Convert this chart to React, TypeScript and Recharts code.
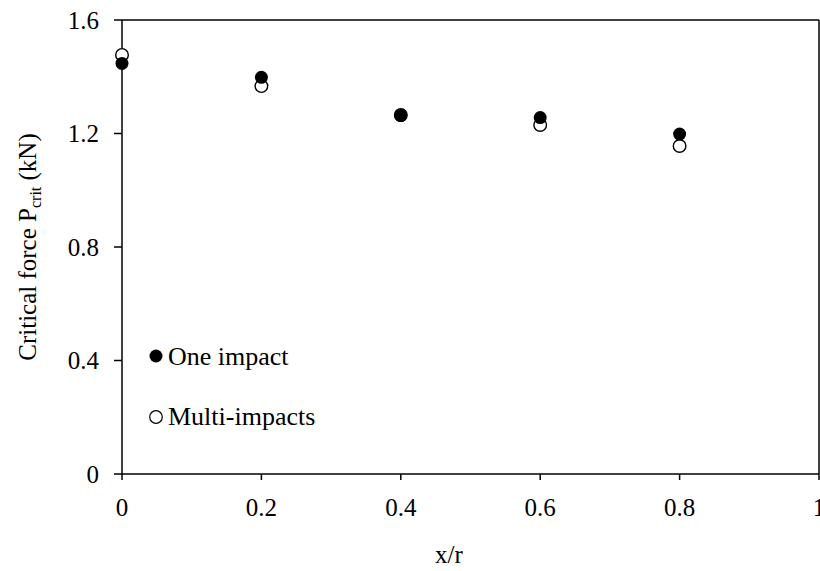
import {
  ScatterChart,
  Scatter,
  XAxis,
  YAxis,
  Legend,
  ReferenceLine,
} from "recharts"

const FONT = "'Liberation Serif', 'Times New Roman', serif"
const INK = "#000"

const X_RATIO = [0, 0.2, 0.4, 0.6, 0.8]
const ONE_IMPACT = [1.447, 1.398, 1.263, 1.256, 1.198]
const MULTI_IMPACTS = [1.477, 1.367, 1.265, 1.23, 1.156]

const X_TICKS = [0, 0.2, 0.4, 0.6, 0.8, 1]
const Y_TICKS = [0, 0.4, 0.8, 1.2, 1.6]

const SERIES_NAMES = ["One impact", "Multi-impacts"]

const oneData = X_RATIO.map((x, i) => ({ x, y: ONE_IMPACT[i] }))
const multiData = X_RATIO.map((x, i) => ({ x, y: MULTI_IMPACTS[i] }))

const filledDot = (p: any) => <circle cx={p.cx} cy={p.cy} r={6.5} fill={INK} />
const openDot = (p: any) => (
  <circle cx={p.cx} cy={p.cy} r={6.3} fill="#fff" stroke={INK} strokeWidth={1.4} />
)

const fmtY = (v: number) => (v === 0 ? "0" : v.toFixed(1))
const fmtX = (v: number) => (v === 0 || v === 1 ? String(v) : v.toFixed(1))

function LegendBox() {
  return (
    <svg width={200} height={100} style={{ display: "block" }}>
      <circle cx={16} cy={21} r={6.5} fill={INK} />
      <text x={28} y={30} fontFamily={FONT} fontSize={26} fill={INK}>
        {SERIES_NAMES[0]}
      </text>
      <circle cx={16} cy={82} r={6.3} fill="#fff" stroke={INK} strokeWidth={1.2} />
      <text x={28} y={90} fontFamily={FONT} fontSize={26} fill={INK}>
        {SERIES_NAMES[1]}
      </text>
    </svg>
  )
}

function YLabel() {
  return (
    <text
      transform="translate(36, 247) rotate(-90)"
      textAnchor="middle"
      fontFamily={FONT}
      fontSize={25}
      fill={INK}
    >
      Critical force P
      <tspan fontSize={16} dy={5}>crit</tspan>
      <tspan dy={-5}> (kN)</tspan>
    </text>
  )
}

export default function App() {
  return (
    <div style={{ position: "absolute", left: 0, top: 0, background: "#fff" }}>
      <ScatterChart
        width={820}
        height={571}
        margin={{ top: 20, right: 1, bottom: 57, left: 62 }}
      >
        <XAxis
          type="number"
          dataKey="x"
          domain={[0, 1]}
          ticks={X_TICKS}
          interval={0}
          tickFormatter={fmtX}
          height={40}
          tickSize={6}
          tickMargin={18}
          axisLine={{ stroke: INK, strokeWidth: 1.5 }}
          tickLine={{ stroke: INK, strokeWidth: 1.5 }}
          tick={{ fill: INK, fontFamily: FONT, fontSize: 25 }}
          label={{
            content: () => (
              <text x={449} y={563} textAnchor="middle" fontFamily={FONT} fontSize={25} fill={INK}>
                x/r
              </text>
            ),
          }}
        />
        <YAxis
          type="number"
          dataKey="y"
          domain={[0, 1.6]}
          ticks={Y_TICKS}
          interval={0}
          tickFormatter={fmtY}
          width={60}
          tickSize={8}
          tickMargin={15}
          axisLine={{ stroke: INK, strokeWidth: 1.5 }}
          tickLine={{ stroke: INK, strokeWidth: 1.5 }}
          tick={{ fill: INK, fontFamily: FONT, fontSize: 25 }}
          label={{ content: () => <YLabel /> }}
        />
        <ReferenceLine y={1.6} stroke={INK} strokeWidth={1.5} ifOverflow="visible" />
        <ReferenceLine x={1} stroke={INK} strokeWidth={1.5} ifOverflow="visible" />
        <Scatter
          name={SERIES_NAMES[1]}
          data={multiData}
          shape={openDot}
          isAnimationActive={false}
        />
        <Scatter
          name={SERIES_NAMES[0]}
          data={oneData}
          shape={filledDot}
          isAnimationActive={false}
        />
        <Legend
          layout="vertical"
          align="center"
          verticalAlign="middle"
          content={() => <LegendBox />}
          wrapperStyle={{ position: "absolute", left: 140, top: 335, width: 200, height: 100 }}
        />
      </ScatterChart>
    </div>
  )
}
